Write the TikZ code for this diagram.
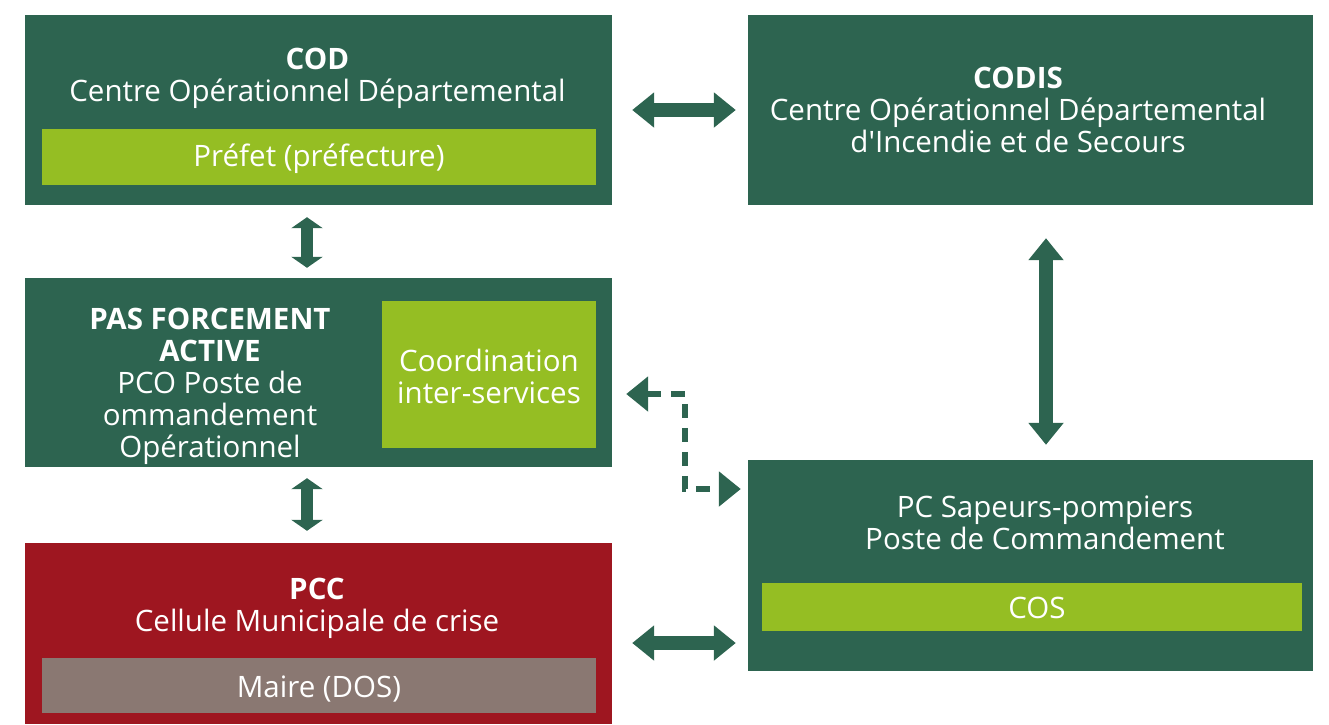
\documentclass[tikz,border=0pt]{standalone}
\usepackage{fontspec}
\setmainfont{Open Sans}
\usetikzlibrary{arrows.meta,calc}
\definecolor{dg}{HTML}{2D6450}
\definecolor{lime}{HTML}{95BE23}
\definecolor{crim}{HTML}{9E1620}
\definecolor{taupe}{HTML}{8A7872}
\begin{document}
\begin{tikzpicture}[x=1pt,y=-1pt,
  box/.style n args={2}{fill=#1,draw=none,inner sep=0pt,minimum width=#2},
  txt/.style={text=white,align=center,inner sep=0pt,font=\fontsize{29.5}{32}\selectfont},
  fat/.style={draw=dg,line width=13.5pt,{Triangle[width=34pt,length=22pt]}-{Triangle[width=34pt,length=22pt]}},
  fatv/.style={draw=dg,line width=12pt,{Triangle[width=31pt,length=11pt]}-{Triangle[width=31pt,length=11pt]}},
  dashc/.style={draw=dg,line width=6.5pt,dash pattern=on 14pt off 10pt,{Triangle[width=34pt,length=22pt]}-{Triangle[width=34pt,length=22pt]}}
]
\useasboundingbox (0,0) rectangle (1329,724);
% boxes
\node[box={dg}{587pt},minimum height=190pt] (cod) at (318.5,110) {};
\node[box={lime}{554pt},minimum height=56pt] (pref) at (319,157) {};
\node[box={dg}{565pt},minimum height=190pt] (codis) at (1030.5,110) {};
\node[box={dg}{587pt},minimum height=189pt] (pas) at (318.5,372.5) {};
\node[box={lime}{214pt},minimum height=147pt] (coord) at (489,374.5) {};
\node[box={crim}{587pt},minimum height=181pt] (pcc) at (318.5,633.5) {};
\node[box={taupe}{554pt},minimum height=55pt] (maire) at (319,685.5) {};
\node[box={dg}{565pt},minimum height=211pt] (pc) at (1030.5,565.5) {};
\node[box={lime}{540pt},minimum height=48pt] (cos) at (1032,607) {};
% texts
\node[txt] (codt) at (317.5,78) {\textbf{COD}\\Centre Opérationnel Départemental};
\node[txt] (preft) at ([yshift=-2pt]pref.center) {Préfet (préfecture)};
\node[txt] (codist) at (1018,110) {\textbf{CODIS}\\Centre Opérationnel Départemental\\d\textquotesingle Incendie et de Secours};
\node[txt] (past) at (210,386) {\textbf{PAS FORCEMENT}\\\textbf{ACTIVE}\\PCO Poste de\\ommandement\\Opérationnel};
\node[txt] (coordt) at ([yshift=-2pt]coord.center) {Coordination\\inter-services};
\node[txt] (pcct) at (317,608) {\textbf{PCC}\\Cellule Municipale de crise};
\node[txt] (mairet) at ([yshift=-3pt]maire.center) {Maire (DOS)};
\node[txt] (pct) at (1045,523) {PC Sapeurs-pompiers\\Poste de Commandement};
\node[txt] (cost) at ([xshift=5pt,yshift=-1pt]cos.center) {COS};
% connectors
\draw[fat,shorten <=20pt,shorten >=12pt] (cod.east) -- (codis.west);
\draw[fatv,shorten <=12pt,shorten >=10pt] ([xshift=-11.5pt]cod.south) -- ([xshift=-11.5pt]pas.north);
\draw[fatv,shorten <=11pt,shorten >=12pt] ([xshift=-11.5pt]pas.south) -- ([xshift=-11.5pt]pcc.north);
\draw[fat,shorten <=33pt,shorten >=15pt] ([xshift=15.5pt]codis.south) -- ([xshift=15.5pt]pc.north);
\coordinate (pa) at ([yshift=-9.5pt]pcc.east);
\draw[fat,shorten <=20pt,shorten >=12pt] (pa) -- (pa -| pc.west);
\coordinate (dk) at (685,489);
\draw[dashc,shorten <=14pt,shorten >=7pt] ([yshift=-21.5pt]pas.east) -| (dk) -- (dk -| pc.west);
\end{tikzpicture}
\end{document}
